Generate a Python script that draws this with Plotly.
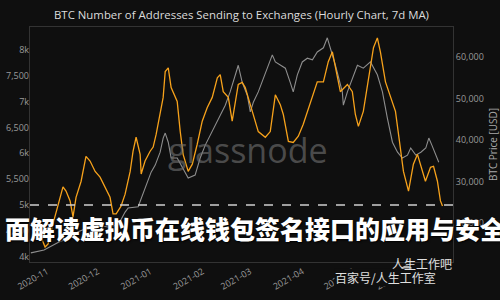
import plotly.graph_objects as go

# ---- data ----
addr_dates = [
    "2020-10-22 12:00", "2020-10-23 19:00", "2020-10-26 17:00", "2020-10-28 12:00", "2020-10-30 22:00",
    "2020-11-01 17:00", "2020-11-04 14:00", "2020-11-07 14:00", "2020-11-10 12:00", "2020-11-12 07:00",
    "2020-11-14 17:00", "2020-11-16 10:00", "2020-11-18 05:00", "2020-11-21 05:00", "2020-11-24 02:00",
    "2020-11-26 12:00", "2020-11-29 12:00", "2020-12-02 10:00", "2020-12-05 10:00", "2020-12-08 07:00",
    "2020-12-10 02:00", "2020-12-11 22:00", "2020-12-14 19:00", "2020-12-17 05:00", "2020-12-20 05:00",
    "2020-12-21 22:00", "2020-12-23 17:00", "2020-12-26 02:00", "2020-12-26 17:00", "2020-12-29 00:00",
    "2021-01-01 00:00", "2021-01-02 19:00", "2021-01-04 14:00", "2021-01-06 22:00", "2021-01-08 17:00",
    "2021-01-09 22:00", "2021-01-11 17:00", "2021-01-13 10:00", "2021-01-17 00:00", "2021-01-18 19:00",
    "2021-01-20 12:00", "2021-01-23 12:00", "2021-01-25 22:00", "2021-01-28 19:00", "2021-01-31 19:00",
    "2021-02-03 17:00", "2021-02-06 17:00", "2021-02-09 17:00", "2021-02-11 10:00", "2021-02-13 05:00",
    "2021-02-16 05:00", "2021-02-18 12:00", "2021-02-20 07:00", "2021-02-22 02:00", "2021-02-24 10:00",
    "2021-02-26 05:00", "2021-03-01 05:00", "2021-03-03 00:00", "2021-03-05 22:00", "2021-03-10 02:00",
    "2021-03-13 00:00", "2021-03-16 00:00", "2021-03-18 22:00", "2021-03-20 17:00", "2021-03-23 17:00",
    "2021-03-26 14:00", "2021-03-29 14:00", "2021-04-01 12:00", "2021-04-05 17:00", "2021-04-09 19:00",
    "2021-04-13 10:00", "2021-04-16 07:00", "2021-04-18 17:00", "2021-04-20 12:00", "2021-04-23 10:00",
    "2021-04-27 14:00", "2021-04-30 12:00", "2021-05-02 07:00", "2021-05-04 02:00", "2021-05-07 00:00",
    "2021-05-10 00:00", "2021-05-13 00:00", "2021-05-15 07:00", "2021-05-17 02:00", "2021-05-20 02:00",
    "2021-05-23 00:00", "2021-05-26 00:00", "2021-05-27 19:00", "2021-05-30 17:00", "2021-06-02 17:00",
    "2021-06-05 14:00", "2021-06-08 00:00", "2021-06-11 00:00", "2021-06-12 17:00", "2021-06-15 17:00",
    "2021-06-17 12:00", "2021-06-19 19:00", "2021-06-21 14:00", "2021-06-22 19:00",
]
addr_values = [
    4650, 4635, 4440, 4385, 4190,
    4250, 4635, 5020, 5350, 5270,
    5080, 4770, 5150, 5460, 5940,
    5850, 5650, 5540, 5350, 5150,
    4830, 4830, 4980, 5210, 5650,
    6040, 6310, 5980, 5600, 5850,
    6040, 6120, 6370, 6810, 7080,
    7580, 7650, 7270, 7000, 6420,
    5980, 5650, 5790, 6170, 6620,
    6880, 7080, 7460, 7520, 7190,
    7080, 6620, 6940, 7330, 7370,
    7270, 6940, 6750, 6420, 6310,
    6420, 7130, 6940, 6750, 6230,
    6210, 6330, 6560, 7000, 7380,
    7380, 7770, 7960, 7650, 7190,
    7330, 7190, 6750, 6520, 6810,
    7460, 8040, 8230, 7960, 7380,
    7080, 6810, 6370, 5650, 5270,
    5790, 5980, 5650, 5460, 5730,
    5750, 5460, 5080, 4980,
]

price_dates = [
    "2020-10-22 12:00", "2020-10-30 07:00", "2020-11-07 14:00", "2020-11-13 12:00", "2020-11-19 10:00",
    "2020-11-29 12:00", "2020-12-07 05:00", "2020-12-13 02:00", "2020-12-17 05:00", "2020-12-19 00:00",
    "2020-12-24 22:00", "2020-12-27 22:00", "2020-12-29 14:00", "2021-01-01 14:00", "2021-01-04 00:00",
    "2021-01-06 22:00", "2021-01-08 17:00", "2021-01-09 22:00", "2021-01-11 17:00", "2021-01-13 10:00",
    "2021-01-17 00:00", "2021-01-21 17:00", "2021-01-23 12:00", "2021-01-27 14:00", "2021-01-30 14:00",
    "2021-02-02 14:00", "2021-02-05 12:00", "2021-02-09 17:00", "2021-02-12 14:00", "2021-02-14 10:00",
    "2021-02-17 07:00", "2021-02-20 07:00", "2021-02-22 02:00", "2021-02-24 10:00", "2021-02-27 10:00",
    "2021-03-01 05:00", "2021-03-03 00:00", "2021-03-05 22:00", "2021-03-08 22:00", "2021-03-11 19:00",
    "2021-03-14 05:00", "2021-03-16 00:00", "2021-03-18 22:00", "2021-03-21 22:00", "2021-03-24 19:00",
    "2021-03-26 14:00", "2021-03-29 00:00", "2021-03-31 22:00", "2021-04-03 22:00", "2021-04-06 22:00",
    "2021-04-09 19:00", "2021-04-13 10:00", "2021-04-15 17:00", "2021-04-17 12:00", "2021-04-20 12:00",
    "2021-04-24 14:00", "2021-04-25 05:00", "2021-04-27 14:00", "2021-04-30 12:00", "2021-05-03 12:00",
    "2021-05-07 00:00", "2021-05-11 05:00", "2021-05-15 07:00", "2021-05-18 07:00", "2021-05-21 05:00",
    "2021-05-24 05:00", "2021-05-27 05:00", "2021-05-30 02:00", "2021-06-02 02:00", "2021-06-04 00:00",
    "2021-06-07 00:00", "2021-06-10 00:00", "2021-06-12 22:00", "2021-06-14 17:00", "2021-06-16 12:00",
    "2021-06-18 19:00", "2021-06-20 14:00",
]
price_values = [
    12900, 13600, 15400, 16400, 18000,
    19600, 19100, 19600, 22700, 23700,
    24000, 27300, 29200, 32300, 34000,
    37100, 40500, 41700, 39500, 35700,
    35700, 32300, 30900, 31600, 35700,
    38800, 41200, 44300, 46800, 48400,
    51600, 55700, 58000, 53900, 50800,
    46800, 49100, 51600, 54900, 58000,
    60500, 58800, 58000, 57300, 53900,
    51600, 55700, 58800, 59700, 59300,
    61200, 62200, 64600, 62200, 58000,
    51600, 48400, 51600, 54900, 58000,
    57300, 58800, 55700, 51600, 45300,
    39500, 37100, 35700, 36400, 38100,
    36400, 37100, 38100, 40500, 38800,
    36400, 34700,
]

left_tickvals = [4000, 4500, 5000, 5500, 6000, 6500, 7000, 7500, 8000]
left_ticktext = ["4k", "4,500", "5k", "5,500", "6k", "6,500", "7k", "7,500", "8k"]
right_tickvals = [20000, 30000, 40000, 50000, 60000]
threshold = 5000

title_text = "BTC Number of Addresses Sending to Exchanges (Hourly Chart, 7d MA)"
banner_text = "面解读虚拟币在线钱包签名接口的应用与安全"

BG = "#0f0f0f"
TICK = "#9a9a9a"

fig = go.Figure()
fig.add_trace(go.Scatter(x=price_dates, y=price_values, mode="lines", yaxis="y",
                         line=dict(color="#8e8e8e", width=1.1), name="Price"))
fig.add_trace(go.Scatter(x=addr_dates, y=addr_values, mode="lines", yaxis="y2",
                         line=dict(color="#f7a21b", width=1.3), name="Addresses"))

fig.update_layout(
    width=500, height=300,
    margin=dict(l=30, r=47, t=27, b=38, autoexpand=False),
    paper_bgcolor=BG, plot_bgcolor=BG,
    showlegend=False,
    font=dict(family="Open Sans", color=TICK, size=9),
    title=dict(text=title_text, x=0.483, xanchor="center", y=0.95, yanchor="middle",
               font=dict(size=11.4, color="#dcdcdc", family="Open Sans")),
    xaxis=dict(range=["2020-10-22", "2021-06-29"], showgrid=False, zeroline=False, automargin=False,
               showline=True, linecolor="#333333", mirror=True,
               tickformat="%Y-%m", dtick="M1", tickangle=-30, ticks="",
               tickfont=dict(size=9, color=TICK)),
    yaxis=dict(range=[10700, 67200], side="right", showgrid=False, zeroline=False, automargin=False,
               showline=True, linecolor="#333333", mirror=True,
               tickvals=right_tickvals, tickprefix="$", tickformat=",d",
               tickfont=dict(size=9, color=TICK),
               title=dict(text="BTC Price [USD]", font=dict(size=10, color="#a8a8a8"), standoff=8)),
    yaxis2=dict(range=[3900, 8440], side="left", overlaying="y", showgrid=False, zeroline=False,
                automargin=False, showline=False, tickvals=left_tickvals, ticktext=left_ticktext,
                tickfont=dict(size=9, color=TICK)),
)

fig.add_shape(type="line", xref="paper", x0=0, x1=1, yref="y2", y0=threshold, y1=threshold,
              line=dict(color="#d0d0d0", width=1.5, dash="dash"))

# glassnode watermark
fig.add_annotation(text="glassnode", xref="paper", yref="paper", x=0.515, y=0.477,
                   showarrow=False, font=dict(size=34, color="rgba(115,115,115,0.6)", family="Open Sans"))

# overlay banner
fig.add_annotation(text=banner_text, xref="paper", yref="paper", x=0.532, y=0.06,
                   showarrow=False,
                   font=dict(size=25, color="#ffffff", family="Noto Sans CJK SC", weight=900,
                             shadow="1px 1px 2px #000000"))

# bottom-right watermark
fig.add_shape(type="circle", xref="paper", yref="paper", x0=0.875, x1=0.905, y0=-0.065, y1=-0.015,
              fillcolor="rgba(210,210,210,0.85)", line=dict(width=0))
fig.add_shape(type="circle", xref="paper", yref="paper", x0=0.892, x1=0.922, y0=-0.1, y1=-0.05,
              fillcolor="rgba(170,170,170,0.85)", line=dict(color=BG, width=1))
fig.add_annotation(text="百家号/人生工作室", xref="paper", yref="paper", x=0.963, y=-0.106,
                   showarrow=False, bgcolor=BG, borderpad=0,
                   font=dict(size=12, color="#e0e0e0", family="Noto Sans CJK SC"))
fig.add_annotation(text="人生工作吧", xref="paper", yref="paper", x=1.0, y=-0.045,
                   showarrow=False, borderpad=0,
                   font=dict(size=12, color="#e0e0e0", family="Noto Sans CJK SC"))

fig.write_html("out.html")
